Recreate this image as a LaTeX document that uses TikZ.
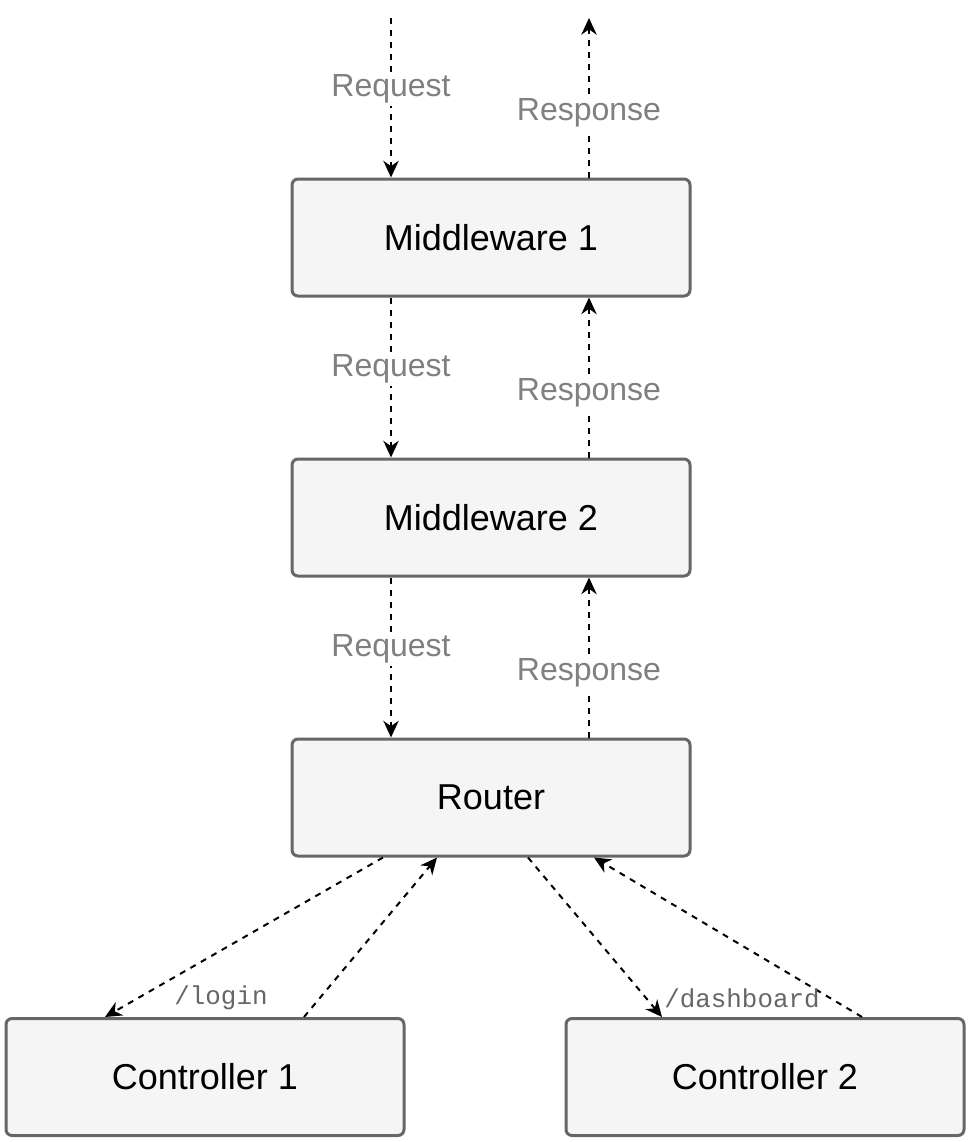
\documentclass[tikz,border=0pt]{standalone}
\usepackage{fontspec}
\setmainfont{Liberation Sans}
\setmonofont{Liberation Mono}
\usetikzlibrary{calc, arrows.meta}

\begin{document}
\begin{tikzpicture}[x = 0.75pt, y = -0.75pt,
        block/.style = {draw = black!60, fill = black!4, line width = 2.25pt, rounded corners = 4.5pt, minimum width = 298.5pt, minimum height = 87.75pt, font = \fontsize{27}{32}\selectfont},
        flow/.style = {black, line width = 1.5pt, dash pattern = on 4.5pt off 4.5pt, -{Stealth[length = 12.5pt, width = 11.5pt, inset = 4pt]}},
        msg/.style = {fill = white, text = black!50, inner sep = 2pt, font = \fontsize{24}{28}\selectfont},
        route/.style = {text = black!60, inner sep = 1pt, font = \ttfamily\fontsize{19.4}{22}\selectfont}]
            \useasboundingbox (0, 0) rectangle (968, 1142);
            \coordinate (entry) at (391, 18);
            \coordinate (exit) at (589, 18);
            
            \node[block] (mw1) at (491, 237.5) {Middleware 1};
            \node[block] (mw2) at (491, 517.5) {Middleware 2};
            \node[block] (router) at (491, 797.5) {Router};
            \node[block] (ctrl1) at (205, 1077) {Controller 1};
            \node[block] (ctrl2) at (765, 1077) {Controller 2};
            
            \draw[flow] (entry) -- node[msg, pos = 0.445] {Request} (entry |- mw1.north);
            \draw[flow] (exit |- mw1.north) -- node[msg, pos = 0.405] {Response} (exit);
            
            \draw[flow] (entry |- mw1.south) -- node[msg, pos = 0.445] {Request} (entry |- mw2.north);
            \draw[flow] (exit |- mw2.north) -- node[msg, pos = 0.405] {Response} (exit |- mw1.south);
            
            \draw[flow] (entry |- mw2.south) -- node[msg, pos = 0.445] {Request} (entry |- router.north);
            \draw[flow] (exit |- router.north) -- node[msg, pos = 0.405] {Response} (exit |- mw2.south);
            
            \draw[flow] ($(router.south) + (-108, 0)$) -- ($(ctrl1.north) + (-100, 0)$);
            \draw[flow] ($(ctrl1.north) + (99, 0)$) -- ($(router.south) + (-54, 0)$);
            \node[route] (login) at (221, 998) {/login};
            
            \draw[flow] ($(router.south) + (37, 0)$) -- ($(ctrl2.north) + (-103, 0)$);
            \draw[flow] ($(ctrl2.north) + (97, 0)$) -- ($(router.south) + (103, 0)$);
            \node[route] (dashboard) at (742, 998) {/dashboard};
            
        \end{tikzpicture}
\end{document}
